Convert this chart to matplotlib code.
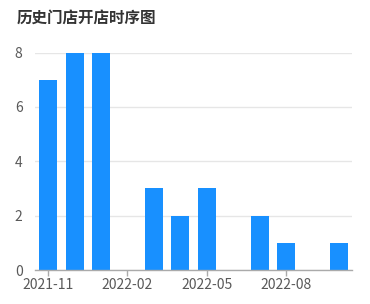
import matplotlib.pyplot as plt

plt.rcParams['font.family'] = ['Noto Sans CJK SC', 'DejaVu Sans']

months = ['2021-11', '2021-12', '2022-01', '2022-02', '2022-03', '2022-04',
          '2022-05', '2022-06', '2022-07', '2022-08', '2022-09', '2022-10']
openings = [7, 8, 8, 0, 3, 2, 3, 0, 2, 1, 0, 1]
tick_months = ['2021-11', '2022-02', '2022-05', '2022-08']
y_ticks = [0, 2, 4, 6, 8]

fig = plt.figure(figsize=(3.7, 3.04), dpi=100)
ax = fig.add_axes([35 / 370, 1 - 270 / 304, 317 / 370, 217.5 / 304])

x = list(range(len(months)))
ax.bar(x, openings, width=0.68, color='#1890ff', zorder=3)

ax.set_xlim(-0.5, len(months) - 0.5)
ax.set_ylim(0, 8)
ax.set_yticks(y_ticks)
ax.set_yticklabels([str(v) for v in y_ticks])
ax.set_xticks([months.index(m) for m in tick_months])
ax.set_xticklabels(tick_months)

ax.grid(axis='y', color='#e6e6e6', linewidth=1, zorder=0)
for side in ('top', 'right', 'left'):
    ax.spines[side].set_visible(False)
ax.spines['bottom'].set_color('#aaaaaa')
ax.spines['bottom'].set_linewidth(1)
ax.spines['bottom'].set_zorder(4)

ax.tick_params(axis='y', length=0, pad=9, labelsize=10, labelcolor='#595959')
ax.tick_params(axis='x', length=4, width=1, color='#aaaaaa', pad=2,
               labelsize=10, labelcolor='#595959')

fig.text(17 / 370, 1 - 18 / 304, '历史门店开店时序图', fontsize=11.2,
         fontweight='bold', color='#333333', va='center', ha='left')

fig.savefig('out.png', dpi=100)
